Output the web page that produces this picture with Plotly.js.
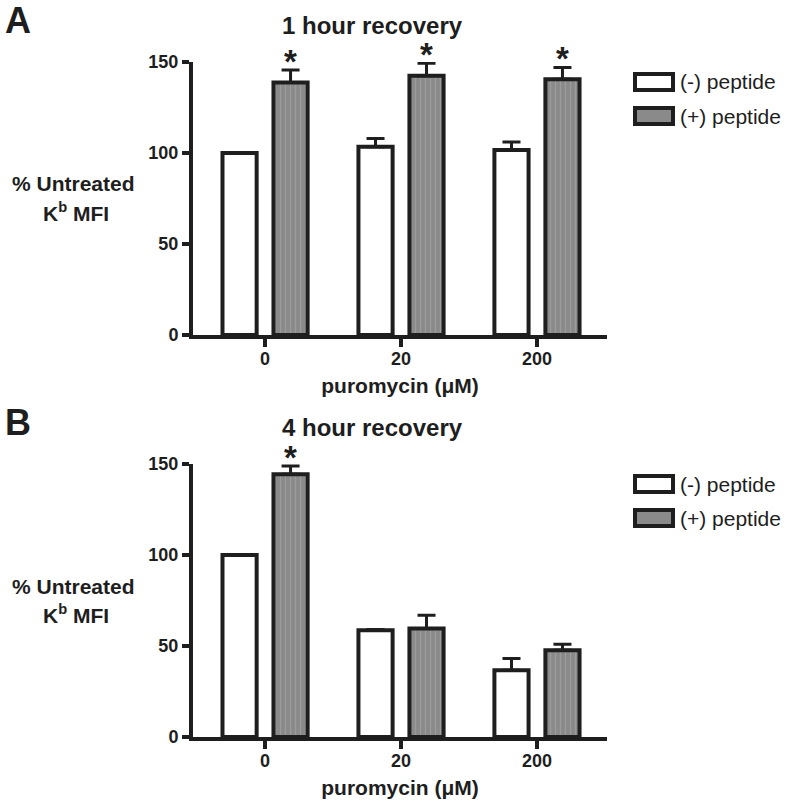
<!DOCTYPE html>
<html>
<head>
<meta charset="utf-8">
<script src="https://cdn.plot.ly/plotly-3.0.1.min.js"></script>
<style>html,body{margin:0;padding:0;background:#fff;}#chart{width:792px;height:808px;}</style>
</head>
<body>
<div id="chart"></div>
<script>
// ---- data ----
const categories = ["0", "20", "200"];
const seriesNames = ["(-) peptide", "(+) peptide"];
// Panel A: 1 hour recovery
const hr1_minus = [100, 103.5, 101.6];
const hr1_minus_err = [0, 4.5, 4.5];
const hr1_plus = [138.8, 142.5, 140.5];
const hr1_plus_err = [6.8, 6.8, 6.5];
const hr1_stars = [true, true, true];
// Panel B: 4 hour recovery
const hr4_minus = [100, 58.7, 36.7];
const hr4_minus_err = [0, 0.4, 6.4];
const hr4_plus = [144.3, 59.6, 47.7];
const hr4_plus_err = [4.6, 7.3, 3.3];
const hr4_stars = [true, false, false];
const yTicks = [0, 50, 100, 150];
const panelTitles = ["1 hour recovery", "4 hour recovery"];
const panelLetters = ["A", "B"];
const xTitle = "puromycin (μM)";

// ---- style ----
const FONT = "Arial, 'Liberation Sans', Helvetica, sans-serif";
const DARK = "#1e1e1e";
const GRAY = "#8a8a8a";
const W = 792, H = 808;
const px = v => v / W;
const py = v => 1 - v / H;

function barTrace(xa, ya, y, err, name, fill, pattern) {
  const t = {
    type: "bar", x: categories, y: y, name: name, xaxis: xa, yaxis: ya,
    showlegend: false,
    marker: {color: fill, line: {color: DARK, width: 4}},
    error_y: {type: "data", symmetric: false, array: err, arrayminus: err.map(() => 0),
              color: DARK, thickness: 3, width: 9},
    hoverinfo: "x+y"
  };
  if (pattern) t.marker.pattern = {shape: "|", fgcolor: "#9c9c9c", bgcolor: GRAY, size: 5, solidity: 0.25, fillmode: "replace"};
  return t;
}

const data = [
  barTrace("x", "y", hr1_minus, hr1_minus_err, seriesNames[0], "#ffffff", false),
  barTrace("x", "y", hr1_plus, hr1_plus_err, seriesNames[1], GRAY, true),
  barTrace("x2", "y2", hr4_minus, hr4_minus_err, seriesNames[0], "#ffffff", false),
  barTrace("x2", "y2", hr4_plus, hr4_plus_err, seriesNames[1], GRAY, true)
];

const xCommon = {
  type: "category", range: [-0.53, 2.515], showline: true, linewidth: 4, linecolor: DARK,
  ticks: "outside", ticklen: 8, tickwidth: 4, tickcolor: DARK, ticklabelstandoff: -4,
  tickfont: {family: FONT, size: 18, color: DARK, weight: "bold"},
  title: {text: "<b>" + xTitle + "</b>", font: {family: FONT, size: 21, color: DARK}, standoff: 12},
  showgrid: false, zeroline: false, fixedrange: true
};
const yCommon = {
  range: [0, 150], tickvals: yTicks, showline: true, linewidth: 4, linecolor: DARK,
  ticks: "outside", ticklen: 7, tickwidth: 4, tickcolor: DARK,
  tickfont: {family: FONT, size: 18, color: DARK, weight: "bold"},
  showgrid: false, zeroline: false, fixedrange: true
};

const panels = [
  {top: 62, bottom: 335, x: "x", y: "y", plus: hr1_plus, perr: hr1_plus_err, stars: hr1_stars},
  {top: 464, bottom: 737, x: "x2", y: "y2", plus: hr4_plus, perr: hr4_plus_err, stars: hr4_stars}
];

const annotations = [];
const shapes = [];
panels.forEach((p, i) => {
  const off = p.top - 62;
  annotations.push({xref: "paper", yref: "paper", x: px(18), y: py(20 + off), text: "<b>" + panelLetters[i] + "</b>",
    showarrow: false, xanchor: "center", yanchor: "middle", font: {family: FONT, size: 36, color: DARK}});
  annotations.push({xref: "paper", yref: "paper", x: px(372), y: py(25 + off), text: "<b>" + panelTitles[i] + "</b>",
    showarrow: false, xanchor: "center", yanchor: "middle", font: {family: FONT, size: 24, color: DARK}});
  annotations.push({xref: "paper", yref: "paper", x: px(73), y: py(184 + off), text: "<b>% Untreated</b>",
    showarrow: false, xanchor: "center", yanchor: "middle", font: {family: FONT, size: 21, color: DARK}});
  annotations.push({xref: "paper", yref: "paper", x: px(76), y: py(212 + off), text: "<b>K<sup>b</sup> MFI</b>",
    showarrow: false, xanchor: "center", yanchor: "middle", font: {family: FONT, size: 21, color: DARK}});
  categories.forEach((c, j) => {
    if (p.stars[j]) {
      annotations.push({xref: p.x, yref: p.y, x: j, y: p.plus[j] + p.perr[j], xshift: 25.5, yshift: -12,
        text: "<b>*</b>", showarrow: false, xanchor: "center", yanchor: "bottom",
        height: 34, valign: "bottom",
        font: {family: FONT, size: 33, color: DARK}});
    }
  });
  const ly = [82 + off, 116 + off];
  ["#ffffff", GRAY].forEach((f, k) => {
    shapes.push({type: "rect", xref: "paper", yref: "paper", x0: px(635), x1: px(673),
      y0: py(ly[k] + 8), y1: py(ly[k] - 8), fillcolor: f, line: {color: DARK, width: 4}});
    annotations.push({xref: "paper", yref: "paper", x: px(678), y: py(ly[k]), text: seriesNames[k],
      showarrow: false, xanchor: "left", yanchor: "middle", font: {family: FONT, size: 21, color: DARK}});
  });
});

const layout = {
  width: W, height: H, margin: {l: 0, r: 0, t: 0, b: 0},
  paper_bgcolor: "#ffffff", plot_bgcolor: "rgba(0,0,0,0)",
  barmode: "group", bargap: 0.25, bargroupgap: 0.33,
  showlegend: false,
  xaxis: Object.assign({}, xCommon, {domain: [px(193), px(607)], anchor: "y"}),
  yaxis: Object.assign({}, yCommon, {domain: [py(335), py(62)], anchor: "x"}),
  xaxis2: Object.assign({}, xCommon, {domain: [px(193), px(607)], anchor: "y2"}),
  yaxis2: Object.assign({}, yCommon, {domain: [py(737), py(464)], anchor: "x2"}),
  annotations: annotations,
  shapes: shapes
};

Plotly.newPlot("chart", data, layout, {displayModeBar: false, staticPlot: true});
</script>
</body>
</html>
